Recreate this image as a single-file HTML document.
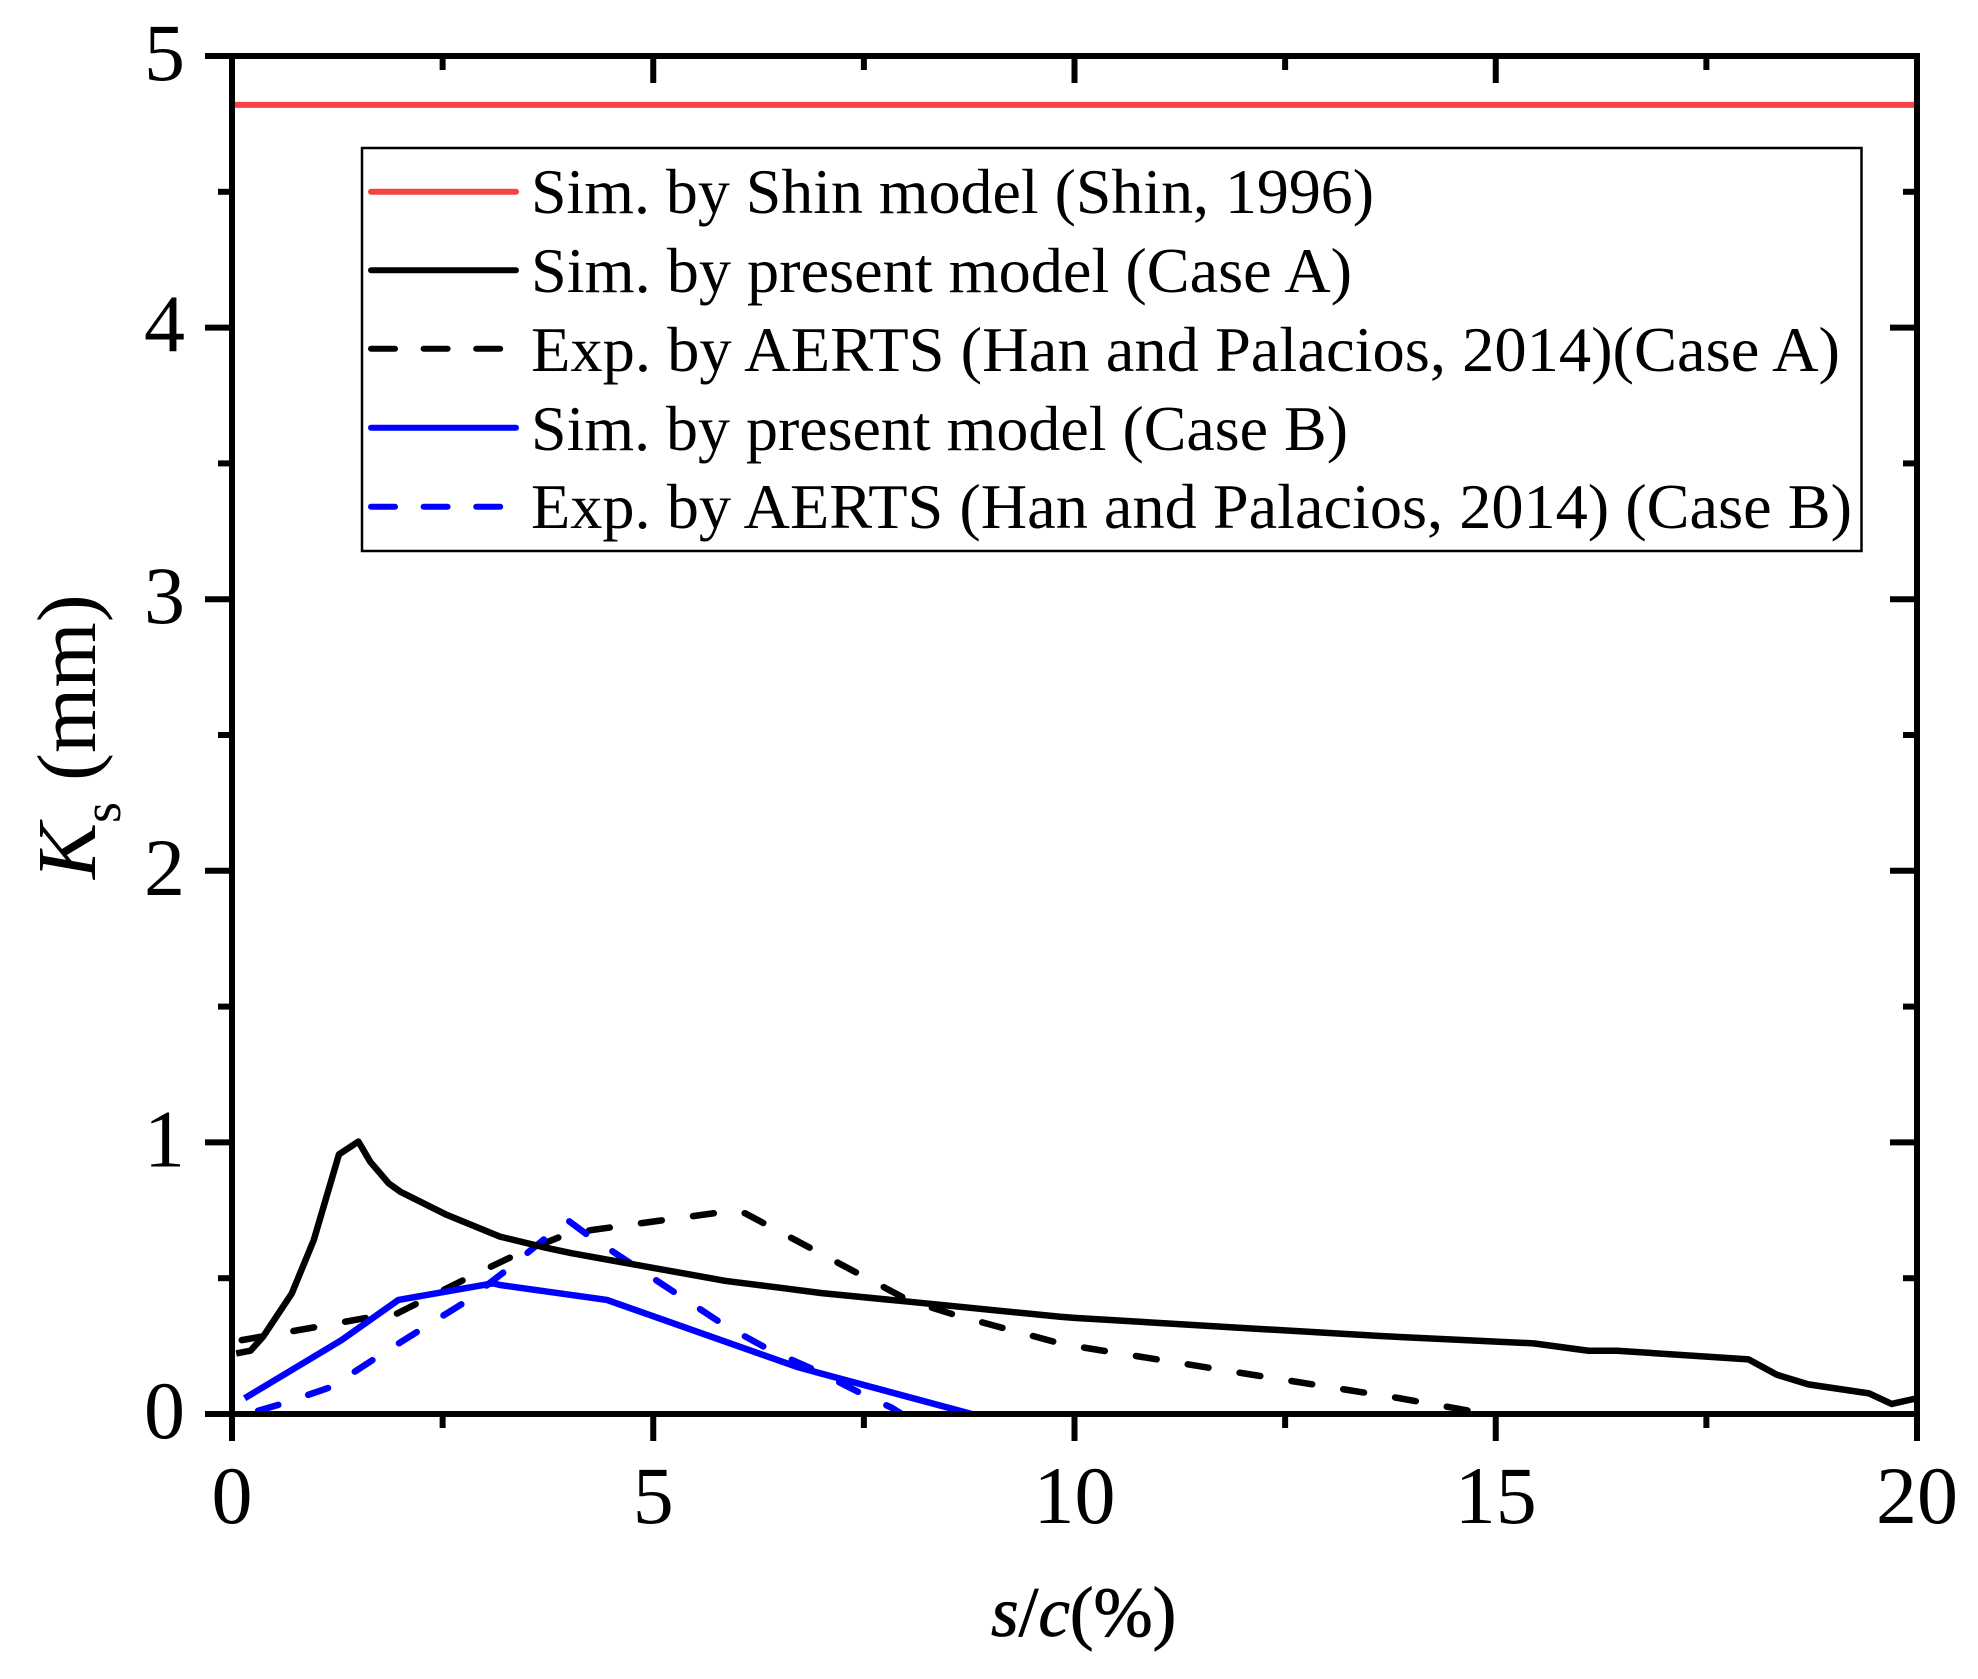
<!DOCTYPE html>
<html lang="en">
<head>
<meta charset="utf-8">
<title>Ks vs s/c chart</title>
<style>
html,body{margin:0;padding:0;background:#fff;}
svg{display:block;}
text{font-family:"Liberation Serif","Times New Roman",serif;fill:#000;}
</style>
</head>
<body>
<svg id="chart" xmlns="http://www.w3.org/2000/svg" width="1978" height="1679" viewBox="0 0 1978 1679">
  <rect x="0" y="0" width="1978" height="1679" fill="#fff"/>
  <g id="series"></g>
  <g id="axes"></g>
  <g>
    <rect x="362" y="148" width="1499.5" height="403" fill="#fff" stroke="#000" stroke-width="2.5"/>
    <g>
      <line x1="371" x2="516" y1="191.7" y2="191.7" stroke="#f44343" stroke-width="6" stroke-linecap="round"/>
      <text x="531" y="213" font-size="64" textLength="843" lengthAdjust="spacingAndGlyphs">Sim. by Shin model (Shin, 1996)</text>
    </g>
    <g>
      <line x1="371" x2="516" y1="270.3" y2="270.3" stroke="#000" stroke-width="6" stroke-linecap="round"/>
      <text x="531" y="292" font-size="64" textLength="821" lengthAdjust="spacingAndGlyphs">Sim. by present model (Case A)</text>
    </g>
    <g>
      <line x1="371" x2="502" y1="348.7" y2="348.7" stroke="#000" stroke-width="6" stroke-linecap="round" stroke-dasharray="24 28.6"/>
      <text x="531" y="371" font-size="64" textLength="1309" lengthAdjust="spacingAndGlyphs">Exp. by AERTS (Han and Palacios, 2014)(Case A)</text>
    </g>
    <g>
      <line x1="371" x2="516" y1="427.7" y2="427.7" stroke="#0000ff" stroke-width="6" stroke-linecap="round"/>
      <text x="531" y="450" font-size="64" textLength="817" lengthAdjust="spacingAndGlyphs">Sim. by present model (Case B)</text>
    </g>
    <g>
      <line x1="371" x2="502" y1="506.7" y2="506.7" stroke="#0000ff" stroke-width="6" stroke-linecap="round" stroke-dasharray="24 28.6"/>
      <text x="531" y="528" font-size="64" textLength="1321" lengthAdjust="spacingAndGlyphs">Exp. by AERTS (Han and Palacios, 2014) (Case B)</text>
    </g>
  </g>
  <text x="991" y="1636" font-size="71" stroke="#000" stroke-width="0.8"><tspan font-style="italic">s</tspan>/<tspan font-style="italic">c</tspan>(%)</text>
  <text transform="translate(95,879) rotate(-90)" font-size="84"><tspan font-style="italic">K</tspan><tspan font-size="54" dy="25">s</tspan><tspan dy="-25"> (mm)</tspan></text>
</svg>
<script>
const xTickValues = [0, 5, 10, 15, 20];
const xMinorTickValues = [2.5, 7.5, 12.5, 17.5];
const yTickValues = [0, 1, 2, 3, 4, 5];
const yMinorTickValues = [0.5, 1.5, 2.5, 3.5, 4.5];

const shinX = [0, 20];
const shinY = [4.82, 4.82];

const presentAX = [0.05, 0.22, 0.37, 0.71, 0.97, 1.27, 1.5, 1.64, 1.86, 2.0, 2.55, 3.18, 3.73, 4.03, 5.86, 6.5, 7.0, 8.02, 9.83, 10.0, 12.1, 13.63, 15.45, 16.1, 16.44, 18.0, 18.34, 18.71, 19.43, 19.7, 20];
const presentAY = [0.223, 0.233, 0.285, 0.444, 0.64, 0.956, 1.003, 0.929, 0.849, 0.818, 0.733, 0.653, 0.612, 0.592, 0.49, 0.465, 0.445, 0.414, 0.358, 0.354, 0.315, 0.287, 0.26, 0.233, 0.233, 0.201, 0.144, 0.109, 0.076, 0.037, 0.058];

const expAX = [0.115, 0.37, 1.03, 1.56, 1.96, 2.79, 3.36, 3.9, 4.26, 5.81, 5.95, 6.09, 8.02, 8.61, 9.83, 10.0, 12.0, 13.86, 14.9];
const expAY = [0.272, 0.286, 0.322, 0.352, 0.37, 0.5, 0.585, 0.653, 0.677, 0.743, 0.75, 0.739, 0.42, 0.362, 0.26, 0.25, 0.15, 0.058, 0.0];

const presentBX = [0.15, 1.3, 1.975, 3.1, 3.18, 4.45, 6.7, 6.98, 8.78];
const presentBY = [0.058, 0.272, 0.42, 0.481, 0.475, 0.42, 0.174, 0.15, 0.0];

const expBX = [0.31, 0.61, 1.18, 1.7, 2.23, 2.77, 3.25, 3.73, 4.0, 4.26, 4.54, 5.3, 5.83, 6.38, 6.96, 7.53, 7.83, 7.95];
const expBY = [0.012, 0.039, 0.1, 0.205, 0.309, 0.413, 0.528, 0.65, 0.71, 0.65, 0.594, 0.438, 0.33, 0.236, 0.156, 0.066, 0.023, 0.0];

const NS = 'http://www.w3.org/2000/svg';
const PLOT_LEFT = 232, PLOT_RIGHT = 1917, PLOT_TOP = 56, PLOT_BOTTOM = 1414;
const X_MIN = 0, X_MAX = 20, Y_MIN = 0, Y_MAX = 5;

function sx(v) { return PLOT_LEFT + (v - X_MIN) / (X_MAX - X_MIN) * (PLOT_RIGHT - PLOT_LEFT); }
function sy(v) { return PLOT_BOTTOM - (v - Y_MIN) / (Y_MAX - Y_MIN) * (PLOT_BOTTOM - PLOT_TOP); }

const seriesGroup = document.getElementById('series');
const axesGroup = document.getElementById('axes');

function drawSeries(name, xs, ys, color, width, dash) {
  const p = document.createElementNS(NS, 'path');
  
  
  let d = '';
  for (let i = 0; i < xs.length; i++) {
    d += (i ? 'L' : 'M') + sx(xs[i]).toFixed(2) + ' ' + sy(ys[i]).toFixed(2);
  }
  p.setAttribute('d', d);
  p.setAttribute('fill', 'none');
  p.setAttribute('stroke', color);
  p.setAttribute('stroke-width', width);
  p.setAttribute('stroke-linejoin', 'round');
  if (dash) {
    p.setAttribute('stroke-dasharray', dash);
    p.setAttribute('stroke-linecap', 'round');
  }
  seriesGroup.appendChild(p);
}

drawSeries('series-shin-model', shinX, shinY, '#f44343', 6, null);
drawSeries('series-exp-case-a', expAX, expAY, '#000', 6.5, '21 31.5');
drawSeries('series-exp-case-b', expBX, expBY, '#0000ff', 6.5, '21 31.5');
drawSeries('series-present-case-a', presentAX, presentAY, '#000', 6.5, null);
drawSeries('series-present-case-b', presentBX, presentBY, '#0000ff', 6.5, null);

function drawLine(name, x1, y1, x2, y2) {
  const l = document.createElementNS(NS, 'line');
  
  
  l.setAttribute('x1', x1);
  l.setAttribute('y1', y1);
  l.setAttribute('x2', x2);
  l.setAttribute('y2', y2);
  l.setAttribute('stroke', '#000');
  l.setAttribute('stroke-width', 6);
  axesGroup.appendChild(l);
}

function drawLabel(name, x, y, anchor, content) {
  const t = document.createElementNS(NS, 'text');
  
  
  t.setAttribute('x', x);
  t.setAttribute('y', y);
  t.setAttribute('text-anchor', anchor);
  t.setAttribute('font-size', 82);
  t.textContent = content;
  axesGroup.appendChild(t);
}

drawLine('axis-left', PLOT_LEFT, PLOT_TOP - 3, PLOT_LEFT, PLOT_BOTTOM + 3);
drawLine('axis-right', PLOT_RIGHT, PLOT_TOP - 3, PLOT_RIGHT, PLOT_BOTTOM + 3);
drawLine('axis-top', PLOT_LEFT - 3, PLOT_TOP, PLOT_RIGHT + 3, PLOT_TOP);
drawLine('axis-bottom', PLOT_LEFT - 3, PLOT_BOTTOM, PLOT_RIGHT + 3, PLOT_BOTTOM);

xTickValues.forEach(function (v) {
  drawLine('x-major-tick', sx(v), PLOT_BOTTOM, sx(v), PLOT_BOTTOM + 27);
  drawLine('x-major-tick-top', sx(v), PLOT_TOP, sx(v), PLOT_TOP + 27);
  drawLabel('x-tick-label', sx(v), 1523, 'middle', String(v));
});
xMinorTickValues.forEach(function (v) {
  drawLine('x-minor-tick', sx(v), PLOT_BOTTOM, sx(v), PLOT_BOTTOM + 14);
  drawLine('x-minor-tick-top', sx(v), PLOT_TOP, sx(v), PLOT_TOP + 14);
});
yTickValues.forEach(function (v) {
  drawLine('y-major-tick', PLOT_LEFT, sy(v), PLOT_LEFT - 27, sy(v));
  drawLine('y-major-tick-right', PLOT_RIGHT, sy(v), PLOT_RIGHT - 27, sy(v));
  drawLabel('y-tick-label', 185, sy(v) + 24, 'end', String(v));
});
yMinorTickValues.forEach(function (v) {
  drawLine('y-minor-tick', PLOT_LEFT, sy(v), PLOT_LEFT - 14, sy(v));
  drawLine('y-minor-tick-right', PLOT_RIGHT, sy(v), PLOT_RIGHT - 14, sy(v));
});
</script>
</body>
</html>
